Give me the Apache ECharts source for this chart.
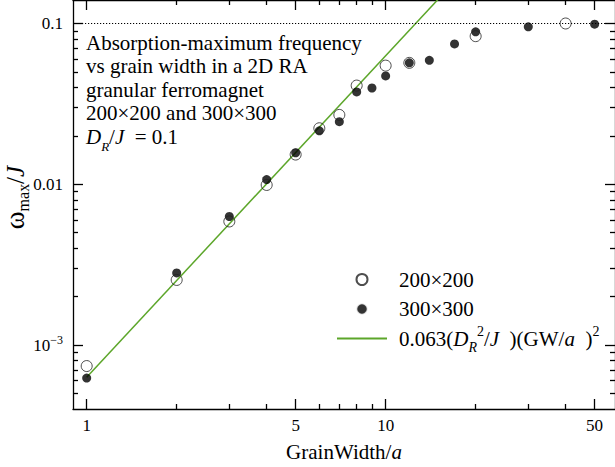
<!DOCTYPE html>
<html><head><meta charset="utf-8">
<script src="https://cdn.jsdelivr.net/npm/echarts@6/dist/echarts.min.js"></script>
<style>html,body{margin:0;padding:0;background:#fff}#c{width:615px;height:467px}</style>
</head><body><div id="c"></div>
<script>
// ---- data ----
const gw200 = [1, 2, 3, 4, 5, 6, 7, 8, 10, 12, 20, 40];
const w200  = [7.4e-4, 2.54e-3, 5.87e-3, 9.9e-3, 0.0153, 0.0223, 0.0270, 0.0411, 0.0547, 0.0569, 0.0834, 0.100];
const gw300 = [1, 2, 3, 4, 5, 6, 7, 8, 9, 10, 12, 14, 17, 20, 30, 50];
const w300  = [6.23e-4, 2.81e-3, 6.3e-3, 0.0107, 0.0157, 0.0215, 0.0245, 0.0375, 0.0397, 0.0472, 0.0569, 0.059, 0.0746, 0.0887, 0.0953, 0.099];
const fitX  = [1, 16];
const fitY  = [6.3e-4, 0.1613];
const refLineY = 0.1;
const xTickMajor = [1, 5, 10, 50];
const xTickMinor = [2, 3, 4, 6, 7, 8, 9, 20, 30, 40];
const yTickMajor = [0.001, 0.01, 0.1];
const yTickMinor = [5e-4, 6e-4, 7e-4, 8e-4, 9e-4, 0.002, 0.003, 0.004, 0.005, 0.006, 0.007, 0.008, 0.009,
                    0.02, 0.03, 0.04, 0.05, 0.06, 0.07, 0.08, 0.09];
const seriesNames = ['200×200', '300×300', 'fit'];
const noteLines = ['Absorption-maximum frequency', 'vs grain width in a 2D RA', 'granular ferromagnet', '200×200 and 300×300'];

// ---- styling ----
const FONT = 'Liberation Serif';
const GREEN = '#5ca62a';
const XMIN = 0.9, XMAX = 58.5, YMIN = 4e-4, YMAX = 0.14;
function R(size, extra) { return Object.assign({fontFamily: FONT, fontSize: size, color: '#000', fontWeight: 'normal', fontStyle: 'normal'}, extra || {}); }

const chart = echarts.init(document.getElementById('c'), null, {renderer: 'svg'});

const lineSt = {color: '#000', width: 1.3};
function xAx(pos, ticks, len, showLine, labels) {
  const a = {
    type: 'log', logBase: 10, min: XMIN, max: XMAX, position: pos, gridIndex: 0,
    axisLine: {show: showLine, onZero: false, lineStyle: lineSt},
    axisTick: {show: true, inside: true, length: len, customValues: ticks, lineStyle: lineSt},
    axisLabel: {show: false},
    minorTick: {show: false}, splitLine: {show: false}, minorSplitLine: {show: false}
  };
  if (labels) {
    a.axisLabel = {show: true, customValues: ticks, margin: 8,
      formatter: v => '{n|' + Math.round(v) + '}',
      rich: {n: R(17)}};
    a.name = '{n|GrainWidth/}{it|a}';
    a.nameLocation = 'middle';
    a.nameGap = 32;
    a.nameTextStyle = {fontFamily: FONT, fontSize: 21, color: '#000',
      rich: {n: R(21), it: R(21, {fontStyle: 'italic'})}};
  }
  return a;
}
function yAx(pos, ticks, len, showLine, labels) {
  const a = {
    type: 'log', logBase: 10, min: YMIN, max: YMAX, position: pos, gridIndex: 0,
    axisLine: {show: showLine, onZero: false, lineStyle: lineSt},
    axisTick: {show: true, inside: true, length: len, customValues: ticks, lineStyle: lineSt},
    axisLabel: {show: false},
    minorTick: {show: false}, splitLine: {show: false}, minorSplitLine: {show: false}
  };
  if (labels) {
    a.axisLabel = {show: true, customValues: ticks, margin: 10,
      formatter: v => {
        if (Math.abs(v - 0.001) < 1e-7) return '{n|10}{sup|−3}';
        if (Math.abs(v - 0.01) < 1e-6) return '{n|0.01}';
        return '{n|0.1}';
      },
      rich: {n: R(17, {lineHeight: 20}), sup: R(12, {lineHeight: 20, padding: [0, 0, 10, 0]})}
    };
    a.name = '{w|ω}{sub|max}{n|/}{it|J}';
    a.nameLocation = 'middle';
    a.nameGap = 45;
    a.nameMoveOverlap = false;
    a.nameRotate = 90;
    a.nameTextStyle = {fontFamily: FONT, fontSize: 25, color: '#000', padding: [0, 0, 0, 14],
      rich: {w: R(27, {lineHeight: 26}), n: R(25, {lineHeight: 26}), it: R(25, {fontStyle: 'italic', lineHeight: 26}),
             sub: R(16, {lineHeight: 26, padding: [16, 0, 0, 0]})}};
  }
  return a;
}

const subSt = {fontStyle: 'italic', lineHeight: 21, padding: [18, 0, 0, 0]};
const supSt = {lineHeight: 21, padding: [0, 0, 14, 0]};
const legendRich = {
  n: R(21, {lineHeight: 21}),
  it: R(21, {fontStyle: 'italic', lineHeight: 21}),
  sub: R(14, subSt),
  sup: R(14, supSt),
  pa: R(14, Object.assign({}, subSt, {color: 'rgba(0,0,0,0)'})),
  pb: R(14, Object.assign({}, supSt, {color: 'rgba(0,0,0,0)'}))
};

const titleText = noteLines.map(s => '{n|' + s + '}').join('\n') + '\n{it|D}{sub|R}{n|/}{it|J}{n|  = 0.1}';

const option = {
  animation: false,
  backgroundColor: '#fff',
  textStyle: {fontFamily: FONT, color: '#000'},
  grid: {left: 73, right: 0, top: 0, bottom: 58, containLabel: false, outerBoundsMode: 'none'},
  title: {
    text: titleText,
    left: 86, top: 31, padding: 0,
    textStyle: {fontFamily: FONT, fontSize: 21, fontWeight: 'normal', color: '#000', lineHeight: 23.5,
      rich: {
        n: R(21, {lineHeight: 23.5}),
        it: R(21, {fontStyle: 'italic', lineHeight: 23.5}),
        sub: R(13, {fontStyle: 'italic', lineHeight: 23.5, padding: [20, 0, 0, 0]})
      }}
  },
  legend: {
    orient: 'vertical', left: 336, top: 263.5, padding: 0,
    itemWidth: 50, itemHeight: 11, itemGap: -2.5, selectedMode: false,
    textStyle: {fontFamily: FONT, fontSize: 21, color: '#000', lineHeight: 21, padding: [0, 0, 0, 7], rich: legendRich},
    formatter: name => name === 'fit'
      ? '{n|0.063(}{it|D}{sub|R}{sup|2}{n|/}{it|J}{n|  )(GW/}{it|a}{n|  )}{sup|2}'
      : '{n|' + name + '}{pa|R}{pb|2}',
    data: [{name: seriesNames[0], icon: 'circle'},
           {name: seriesNames[1], icon: 'circle', itemStyle: {borderColor: '#fff', borderWidth: 1.5}},
           {name: seriesNames[2], itemStyle: {opacity: 0}}]
  },
  xAxis: [xAx('bottom', xTickMajor, 10, true, true), xAx('top', xTickMajor, 10, true, false),
          xAx('bottom', xTickMinor, 5, false, false), xAx('top', xTickMinor, 5, false, false)],
  yAxis: [yAx('left', yTickMajor, 10, true, true), yAx('right', yTickMajor, 10, true, false),
          yAx('left', yTickMinor, 5, false, false), yAx('right', yTickMinor, 5, false, false)],
  series: [
    {
      type: 'line', name: seriesNames[2], xAxisIndex: 0, yAxisIndex: 0,
      data: fitX.map((x, i) => [x, fitY[i]]),
      symbol: 'none', showSymbol: false, clip: true, z: 1,
      lineStyle: {color: GREEN, width: 1.5}, itemStyle: {color: GREEN},
      markLine: {silent: true, symbol: 'none', label: {show: false},
        lineStyle: {color: '#000', width: 1, type: [1.2, 1.8]},
        data: [{yAxis: refLineY}]}
    },
    {
      type: 'scatter', name: seriesNames[0], xAxisIndex: 0, yAxisIndex: 0,
      data: gw200.map((x, i) => [x, w200[i]]),
      symbol: 'circle', symbolSize: 11, z: 3,
      itemStyle: {color: 'rgba(255,255,255,0)', borderColor: '#222', borderWidth: 1}
    },
    {
      type: 'scatter', name: seriesNames[1], xAxisIndex: 0, yAxisIndex: 0,
      data: gw300.map((x, i) => [x, w300[i]]),
      symbol: 'circle', symbolSize: 9, z: 2,
      itemStyle: {color: '#000'}
    }
  ]
};
chart.setOption(option);
</script>
</body></html>
